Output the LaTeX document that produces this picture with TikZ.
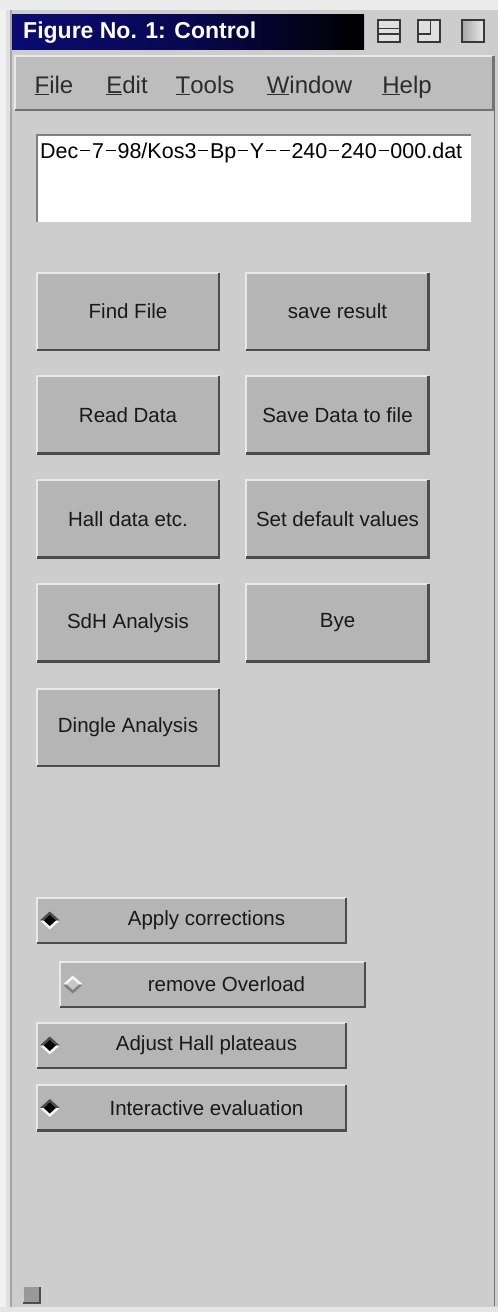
\documentclass[tikz,border=0pt]{standalone}
\usepackage{fontspec}
\setmainfont{Liberation Sans}
\usetikzlibrary{calc}
\definecolor{bg}{HTML}{CDCDCD}
\definecolor{btnface}{HTML}{B5B5B5}
\definecolor{barface}{HTML}{BDBDBD}
\definecolor{hilite}{HTML}{E8E8E8}
\definecolor{shadow}{HTML}{4C4C4C}
\definecolor{navy}{HTML}{0B0B72}
\definecolor{menutext}{HTML}{2C2C2C}
\newcommand\fsz[1]{\fontsize{#1}{#1}\selectfont}
% wide, free-standing dash used in the file name
\newcommand\dsh{\kern1.8pt\rule[6.8pt]{10pt}{1.7pt}\kern1.8pt}
\tikzset{
  pushbtn/.style={fill=btnface, inner sep=0pt, minimum width=182pt, minimum height=77pt,
    font=\fsz{20.5}, text=black!90},
  radiobtn/.style={fill=btnface, inner sep=0pt, minimum width=309pt, minimum height=45pt},
  radiolabel/.style={inner sep=0pt, font=\fsz{20.5}, text=black!90},
  menuitem/.style={inner sep=0pt, anchor=base, font=\fsz{24}, text=menutext},
  hl/.style={draw=hilite, line width=2pt},
  sh/.style={draw=shadow, line width=2.5pt},
  winicon/.style={draw=black!78, line width=1.6pt},
}
\newcommand\mn[1]{\underline{#1}}
\begin{document}
\begin{tikzpicture}[x=1pt,y=-1pt]
\useasboundingbox (0,0) rectangle (498,1312);
% window background and frame
\fill[bg] (0,0) rectangle (498,1312);
\fill[white!95!black] (0,0) rectangle (6,1312);
\fill[white!92!black] (0,0) rectangle (498,10);
\fill[white!88!black] (6,10) rectangle (10,1312);
\draw[black!35, line width=1.5pt] (11,10) -- (11,1312);
\draw[black!55, line width=1.5pt] (494.5,56) -- (494.5,1306);
\fill[white!90!black] (0,1307) rectangle (498,1312);

% title bar
\shade[left color=navy, right color=black, middle color=navy!70!black] (12,14) rectangle (364,49);
\node[anchor=base west, inner sep=0pt, text=white, font=\bfseries\fsz{23}] (title) at (23,38) {Figure No. 1: Control};
% title bar icons
\draw[winicon, fill=black!12] (378,20) rectangle (400,42);
\draw[winicon] (378,28.5) -- (400,28.5) (378,34) -- (400,34);
\draw[winicon, fill=black!12] (418,20) rectangle (440,42);
\draw[white!85!black, line width=1pt] (423,24) -- (423,32);
\draw[winicon] (430.5,20) -- (430.5,34) -- (418,34);
\shade[top color=black!40, bottom color=black!5, left color=black!35, right color=black!8] (462,20) rectangle (484,42);
\draw[winicon] (462,20) rectangle (484,42);

% menu bar
\node[fill=barface, inner sep=0pt, minimum width=478pt, minimum height=54pt] (menubar) at (254,83) {};
\draw[hl] (menubar.south west) |- (menubar.north east);
\draw[sh, draw=black!55, line width=2pt] (menubar.south west) -| (menubar.north east);
\node[menuitem] (mfile) at (54,93) {\mn{F}ile};
\node[menuitem] (medit) at (127,93) {\mn{E}dit};
\node[menuitem] (mtools) at (205,93) {\mn{T}ools};
\node[menuitem] (mwindow) at (309.5,93) {\mn{W}indow};
\node[menuitem] (mhelp) at (407,93) {\mn{H}elp};

% file name field
\node[fill=white, inner sep=0pt, minimum width=434pt, minimum height=87pt] (field) at (254,178.5) {};
\draw[black!50, line width=2pt] (field.south west) |- (field.north east);
\node[anchor=base west, inner sep=0pt, font=\fsz{21.5}, text=black] (fname) at (40,158)
  {Dec\dsh7\dsh98/Kos3\dsh Bp\dsh Y\dsh\dsh240\dsh240\dsh000.dat};

% push buttons
\node[pushbtn] (findfile) at (128,311.5) {Find File};
\node[pushbtn] (saveres) at (337.5,311.5) {save result};
\node[pushbtn] (readdata) at (128,415) {Read Data};
\node[pushbtn] (savedata) at (337.5,415) {Save Data to file};
\node[pushbtn] (halldata) at (128,519) {Hall data etc.};
\node[pushbtn] (setdef) at (337.5,519) {Set default values};
\node[pushbtn] (sdh) at (128,623) {SdH Analysis};
\node[pushbtn] (bye) at (337.5,623) {Bye};
\node[pushbtn] (dingle) at (128,727.5) {Dingle Analysis};

% radio buttons
\node[radiobtn] (applycorr) at (191.5,920.5) {};
\node[radiobtn, minimum width=305pt] (removeov) at (212.5,984.5) {};
\node[radiobtn] (adjhall) at (191.5,1045.5) {};
\node[radiobtn] (interact) at (191.5,1108) {};
\node[radiolabel] (applycorr-t) at ($(applycorr.center)+(15,0)$) {Apply corrections};
\node[radiolabel] (removeov-t) at ($(removeov.center)+(14,0)$) {remove Overload};
\node[radiolabel] (adjhall-t) at ($(adjhall.center)+(15,0)$) {Adjust Hall plateaus};
\node[radiolabel] (interact-t) at ($(interact.center)+(15,0)$) {Interactive evaluation};

\foreach \n in {findfile,saveres,readdata,savedata,halldata,setdef,sdh,bye,dingle,
                applycorr,removeov,adjhall,interact} {
  \draw[hl] (\n.south west) |- (\n.north east);
  \draw[sh] (\n.south west) -| (\n.north east);
}

% radio indicators: set (sunken, dark) and unset (raised)
\foreach \n in {applycorr,adjhall,interact} {
  \coordinate (\n-d) at ($(\n.west)+(13,0)$);
  \fill[black!70] ($(\n-d)+(-10,0)$) -- ($(\n-d)+(0,-9)$) -- ($(\n-d)+(10,0)$) -- cycle;
  \fill[white!96!black] ($(\n-d)+(-10,0)$) -- ($(\n-d)+(0,9)$) -- ($(\n-d)+(10,0)$) -- cycle;
  \fill[black] ($(\n-d)+(-6,0)$) -- ($(\n-d)+(0,-5.5)$) -- ($(\n-d)+(6,0)$) -- ($(\n-d)+(0,5.5)$) -- cycle;
}
\coordinate (removeov-d) at ($(removeov.west)+(13,0)$);
\fill[white!96!black] ($(removeov-d)+(-10,0)$) -- ($(removeov-d)+(0,-9)$) -- ($(removeov-d)+(10,0)$) -- cycle;
\fill[black!50] ($(removeov-d)+(-10,0)$) -- ($(removeov-d)+(0,9)$) -- ($(removeov-d)+(10,0)$) -- cycle;
\fill[black!22] ($(removeov-d)+(-6,0)$) -- ($(removeov-d)+(0,-5.5)$) -- ($(removeov-d)+(6,0)$) -- ($(removeov-d)+(0,5.5)$) -- cycle;

% resize grip
\node[fill=black!40, inner sep=0pt, minimum width=16pt, minimum height=16pt] (grip) at (31.5,1295) {};
\draw[black!20, line width=1.2pt] (grip.south west) |- (grip.north east);
\draw[black!70, line width=1.8pt] (grip.south west) -| (grip.north east);
\end{tikzpicture}
\end{document}
